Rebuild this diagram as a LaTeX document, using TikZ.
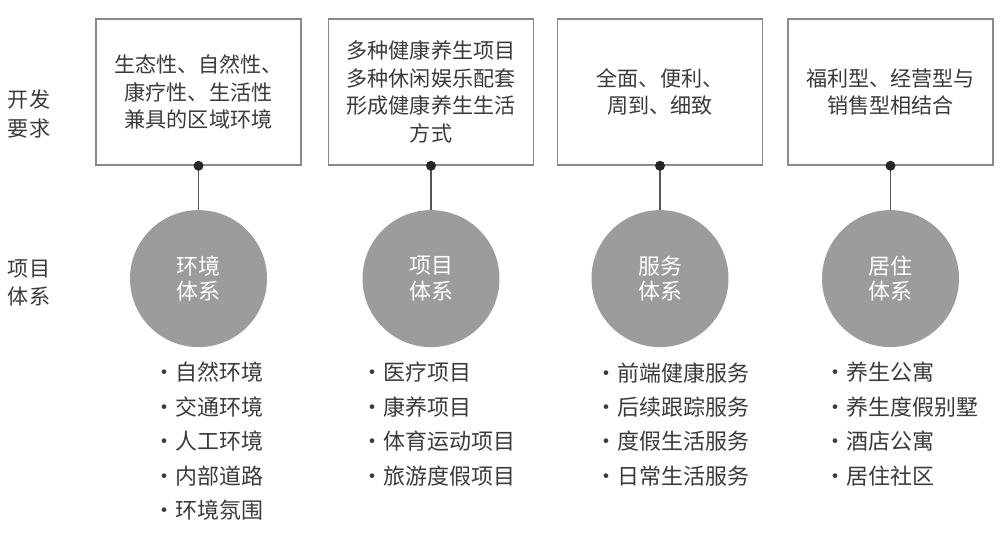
\documentclass[tikz,border=0pt]{standalone}
\usepackage{fontspec}
\setmainfont{Noto Sans CJK SC}
\usetikzlibrary{positioning}
\definecolor{txtgray}{HTML}{3A3A3A}
\definecolor{boxgray}{HTML}{8A8A8A}
\definecolor{diskgray}{HTML}{9C9C9C}
\definecolor{linkgray}{HTML}{555555}
\tikzset{
    reqbox/.style={draw=boxgray, line width=0.9pt, minimum width=4.1cm, minimum height=2.92cm,
        inner sep=0pt, align=center, text=txtgray, font=\fontsize{12pt}{15.6pt}\selectfont},
    sysdisk/.style={circle, fill=diskgray, minimum size=2.74cm, inner sep=0pt, align=center,
        text=white, font=\fontsize{12.5pt}{14.6pt}\selectfont},
    itemlist/.style={anchor=north west, align=left, inner sep=0pt, text=txtgray,
        font=\fontsize{12.5pt}{19.6pt}\selectfont},
    rowlabel/.style={align=center, text=txtgray, font=\fontsize{12pt}{16pt}\selectfont}
}
\begin{document}
\begin{tikzpicture}[x=0.02cm, y=-0.02cm]
    \useasboundingbox (0,0) rectangle (1000,538);
    \node[rowlabel] (devreq) at (29,114) {开发\\要求};
    \node[rowlabel] (projsys) at (29,283) {项目\\体系};
    % top boxes
    \node[reqbox] (req1) at (198.5,92) {生态性、自然性、\\康疗性、生活性\\兼具的区域环境};
    \node[reqbox] (req2) at (431,92) {多种健康养生项目\\多种休闲娱乐配套\\形成健康养生生活\\方式};
    \node[reqbox] (req3) at (660,92) {全面、便利、\\周到、细致};
    \node[reqbox] (req4) at (890.5,92) {福利型、经营型与\\销售型相结合};
    % circles
    \node[sysdisk, below=0.88cm of req1] (sys1) {环境\\体系};
    \node[sysdisk, below=0.88cm of req2] (sys2) {项目\\体系};
    \node[sysdisk, below=0.88cm of req3] (sys3) {服务\\体系};
    \node[sysdisk, below=0.88cm of req4] (sys4) {居住\\体系};
    \foreach \i in {1,...,4}{
        \draw[linkgray, line width=0.8pt] (req\i.south) -- (sys\i.north);
        \fill[black!85] (req\i.south) circle (0.1cm);
    }
    % lists
    \node[itemlist] (list1) at (153,362) {•自然环境\\•交通环境\\•人工环境\\•内部道路\\•环境氛围};
    \node[itemlist] (list2) at (361,362) {•医疗项目\\•康养项目\\•体育运动项目\\•旅游度假项目};
    \node[itemlist] (list3) at (595,362) {•前端健康服务\\•后续跟踪服务\\•度假生活服务\\•日常生活服务};
    \node[itemlist] (list4) at (824,362) {•养生公寓\\•养生度假别墅\\•酒店公寓\\•居住社区};
\end{tikzpicture}
\end{document}
